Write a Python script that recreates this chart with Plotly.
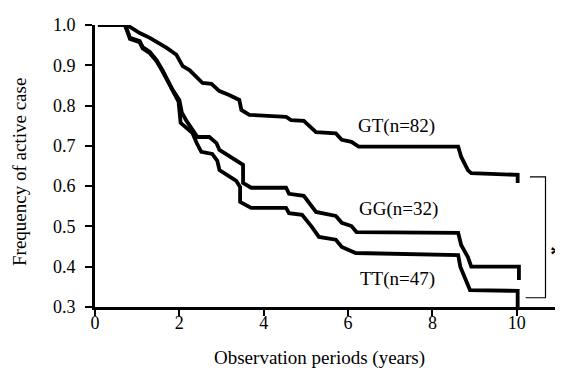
import plotly.graph_objects as go

# ---- data ----
gt_years = [0.07, 0.71, 0.83, 1.06, 1.30, 1.53, 1.70, 1.93, 2.08, 2.24, 2.41, 2.55, 2.76, 2.95,
            3.18, 3.42, 3.47, 3.66, 4.53, 4.65, 4.95, 5.24, 5.71, 5.85, 6.08, 6.25, 8.61, 8.68,
            8.84, 8.92, 10.02, 10.02]
gt_freq = [1.000, 1.000, 0.995, 0.980, 0.968, 0.955, 0.943, 0.926, 0.898, 0.888, 0.871, 0.856,
           0.854, 0.836, 0.826, 0.814, 0.789, 0.777, 0.772, 0.764, 0.762, 0.734, 0.731, 0.715,
           0.710, 0.698, 0.698, 0.673, 0.640, 0.632, 0.628, 0.608]

gg_years = [0.07, 0.71, 0.78, 0.83, 1.06, 1.13, 1.30, 1.46, 1.60, 1.70, 1.84, 2.00, 2.06, 2.17,
            2.36, 2.43, 2.71, 2.88, 2.95, 3.18, 3.37, 3.51, 3.51, 3.70, 4.53, 4.60, 4.95, 5.07,
            5.24, 5.71, 5.85, 6.08, 6.20, 8.61, 8.68, 8.84, 8.92, 10.05, 10.05]
gg_freq = [1.000, 1.000, 0.983, 0.968, 0.960, 0.945, 0.933, 0.913, 0.888, 0.868, 0.839, 0.814,
           0.782, 0.762, 0.732, 0.722, 0.722, 0.707, 0.690, 0.675, 0.660, 0.653, 0.608, 0.596,
           0.596, 0.581, 0.576, 0.558, 0.536, 0.526, 0.509, 0.501, 0.486, 0.484, 0.454, 0.424,
           0.400, 0.400, 0.367]

tt_years = [0.07, 0.71, 0.78, 0.83, 1.06, 1.13, 1.30, 1.46, 1.60, 1.70, 1.84, 1.98, 2.03, 2.31,
            2.41, 2.52, 2.78, 2.90, 2.95, 3.18, 3.35, 3.44, 3.44, 3.70, 4.53, 4.60, 4.91, 5.14,
            5.31, 5.71, 5.85, 6.18, 8.61, 8.66, 8.80, 8.89, 10.02, 10.02]
tt_freq = [1.000, 1.000, 0.980, 0.965, 0.957, 0.942, 0.930, 0.910, 0.885, 0.865, 0.836, 0.810,
           0.757, 0.732, 0.707, 0.685, 0.680, 0.663, 0.640, 0.623, 0.613, 0.598, 0.561, 0.546,
           0.546, 0.533, 0.529, 0.499, 0.474, 0.467, 0.449, 0.434, 0.429, 0.400, 0.362, 0.342,
           0.340, 0.300]

series_labels = ["GT(n=82)", "GG(n=32)", "TT(n=47)"]
label_pos_x = [7.15, 7.19, 7.17]
label_pos_y = [0.749, 0.543, 0.370]

x_ticks = [0, 2, 4, 6, 8, 10]
y_ticks = [0.3, 0.4, 0.5, 0.6, 0.7, 0.8, 0.9, 1.0]

FONT = "Liberation Serif, Times New Roman, serif"

fig = go.Figure()
for xs, ys in [(gt_years, gt_freq), (gg_years, gg_freq), (tt_years, tt_freq)]:
    fig.add_trace(go.Scatter(x=xs, y=ys, mode="lines", cliponaxis=False,
                             line=dict(color="black", width=3.8), showlegend=False,
                             hoverinfo="skip"))

annotations = []
for t, ax_, ay_ in zip(series_labels, label_pos_x, label_pos_y):
    annotations.append(dict(x=ax_, y=ay_, xref="x", yref="y", text=t, showarrow=False,
                            xanchor="center", yanchor="middle",
                            font=dict(family=FONT, size=19, color="black")))

# significance asterisk
annotations.append(dict(x=10.94, y=0.43, xref="x", yref="y", text="<b>*</b>", showarrow=False,
                        xanchor="center", yanchor="middle",
                        font=dict(family=FONT, size=26, color="black")))
# axis titles
annotations.append(dict(x=(319 - 95) / 464, y=(307 - 358) / 282, xref="paper", yref="paper",
                        text="Observation periods (years)", showarrow=False,
                        xanchor="center", yanchor="middle",
                        font=dict(family=FONT, size=19, color="black")))
annotations.append(dict(x=(20 - 95) / 464, y=(307 - 172) / 282, xref="paper", yref="paper",
                        text="Frequency of active case", showarrow=False, textangle=-90,
                        xanchor="center", yanchor="middle",
                        font=dict(family=FONT, size=19, color="black")))

fig.add_shape(type="path", xref="x", yref="y",
              path="M 10.31 0.623 L 10.68 0.623 L 10.68 0.323 L 10.21 0.323",
              line=dict(color="black", width=1.2))

# page body has an 8px default margin, so the figure is 8px smaller
fig.update_layout(
    width=555, height=367,
    margin=dict(l=87, r=4, t=17, b=68),
    paper_bgcolor="white", plot_bgcolor="white",
    font=dict(family=FONT, size=18, color="black"),
    annotations=annotations,
    xaxis=dict(range=[0, 11], tickvals=x_ticks, ticktext=[str(v) for v in x_ticks],
               ticks="outside", ticklen=6, tickwidth=2, tickcolor="black",
               showline=True, linewidth=3, linecolor="black", showgrid=False,
               zeroline=False, ticklabelstandoff=-9, tickfont=dict(family=FONT, size=18)),
    yaxis=dict(range=[0.3, 1.0], tickvals=y_ticks, ticktext=[f"{v:.1f}" for v in y_ticks],
               ticks="outside", ticklen=7, tickwidth=2, tickcolor="black",
               showline=True, linewidth=3, linecolor="black", showgrid=False,
               zeroline=False, ticklabelstandoff=6, tickfont=dict(family=FONT, size=18)),
)

fig.write_html("out.html")
